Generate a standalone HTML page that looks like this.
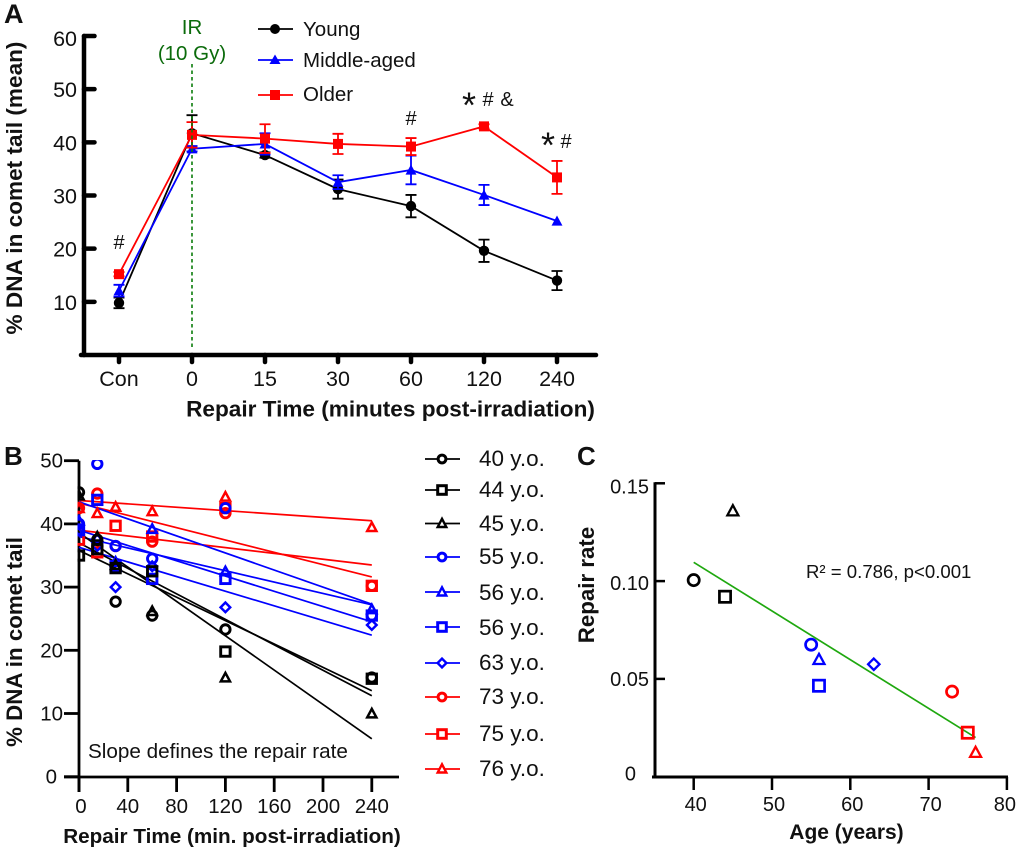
<!DOCTYPE html>
<html lang="en">
<head>
<meta charset="utf-8">
<title>DNA repair charts</title>
<style>
html,body{margin:0;padding:0;background:#fff;width:1020px;height:852px;overflow:hidden}
svg{display:block}
text{font-family:"Liberation Sans",sans-serif;fill:#111}
.b{font-weight:700}
</style>
</head>
<body>
<svg id="fig" width="1020" height="852" viewBox="0 0 1020 852" xmlns="http://www.w3.org/2000/svg">
<defs>
<clipPath id="clipB"><rect x="77.5" y="460" width="330" height="320"/></clipPath>
</defs>

<text class="b" x="4" y="23" font-size="27">A</text>
<text class="b" x="4" y="465" font-size="26">B</text>
<text class="b" x="577" y="465" font-size="26">C</text>

<g id="panelA"></g>
<text class="b" transform="translate(22,188) rotate(-90)" text-anchor="middle" font-size="22.6">% DNA in comet tail (mean)</text>
<text class="b" x="390.500" y="416.500" text-anchor="middle" font-size="22.6">Repair Time (minutes post-irradiation)</text>
<text x="192" y="34" text-anchor="middle" font-size="20.5" style="fill:#0b6b0b">IR</text>
<text x="192" y="60" text-anchor="middle" font-size="20.5" style="fill:#0b6b0b">(10 Gy)</text>
<line x1="192" y1="64" x2="192" y2="350" stroke="#0b7d0b" stroke-width="1.6" stroke-dasharray="3.5 3"/>

<g>
<line x1="258" y1="29" x2="293" y2="29" stroke="#000" stroke-width="1.8"/><circle cx="275" cy="29" r="5" fill="#000"/>
<text x="303" y="36" font-size="20.5">Young</text></g>
<g>
<line x1="258" y1="60" x2="293" y2="60" stroke="#00f" stroke-width="1.8"/><path d="M275 54.500L280.500 64L269.500 64Z" fill="#00f"/>
<text x="303" y="67" font-size="20.5">Middle-aged</text></g>
<g>
<line x1="258" y1="95" x2="293" y2="95" stroke="#f00" stroke-width="1.8"/><rect x="270" y="90" width="10" height="10" fill="#f00"/>
<text x="303" y="101" font-size="20.5">Older</text></g>

<text x="119" y="249" text-anchor="middle" font-size="20">#</text>
<text x="411" y="125" text-anchor="middle" font-size="20">#</text>
<text x="469" y="117.500" text-anchor="middle" font-size="36">*</text>
<text x="488" y="106" text-anchor="middle" font-size="20">#</text>
<text x="507" y="106" text-anchor="middle" font-size="20">&amp;</text>
<text x="548" y="157.500" text-anchor="middle" font-size="36">*</text>
<text x="566" y="148" text-anchor="middle" font-size="20">#</text>

<g id="panelB"></g>
<text class="b" transform="translate(22,642) rotate(-90)" text-anchor="middle" font-size="22.300">% DNA in comet tail</text>
<text class="b" x="232" y="843" text-anchor="middle" font-size="20.700">Repair Time (min. post-irradiation)</text>
<text x="88" y="758" font-size="20.700">Slope defines the repair rate</text>

<g font-size="22.500">
<g><line x1="425" y1="459" x2="460" y2="459" stroke="#000" stroke-width="1.7"/><circle cx="442" cy="459" r="3.900" fill="#fff" stroke="#000" stroke-width="3"/><text x="479" y="466">40 y.o.</text></g>
<g><line x1="425" y1="490" x2="460" y2="490" stroke="#000" stroke-width="1.7"/><rect x="437.700" y="485.700" width="8.600" height="8.600" fill="#fff" stroke="#000" stroke-width="3"/><text x="479" y="497">44 y.o.</text></g>
<g><line x1="425" y1="523.500" x2="460" y2="523.500" stroke="#000" stroke-width="1.7"/><path d="M442 518.800L446.300 527L437.700 527Z" fill="#fff" stroke="#000" stroke-width="2.400"/><text x="479" y="531">45 y.o.</text></g>
<g><line x1="425" y1="557" x2="460" y2="557" stroke="#00f" stroke-width="1.7"/><circle cx="442" cy="557" r="3.900" fill="#fff" stroke="#00f" stroke-width="3"/><text x="479" y="564">55 y.o.</text></g>
<g><line x1="425" y1="592" x2="460" y2="592" stroke="#00f" stroke-width="1.7"/><path d="M442 587.300L446.300 595.500L437.700 595.500Z" fill="#fff" stroke="#00f" stroke-width="2.400"/><text x="479" y="600">56 y.o.</text></g>
<g><line x1="425" y1="627" x2="460" y2="627" stroke="#00f" stroke-width="1.7"/><rect x="437.700" y="622.700" width="8.600" height="8.600" fill="#fff" stroke="#00f" stroke-width="3"/><text x="479" y="635">56 y.o.</text></g>
<g><line x1="425" y1="663" x2="460" y2="663" stroke="#00f" stroke-width="1.7"/><path d="M442 658.600L446.400 663L442 667.400L437.600 663Z" fill="#fff" stroke="#00f" stroke-width="2.400"/><text x="479" y="670">63 y.o.</text></g>
<g><line x1="425" y1="697" x2="460" y2="697" stroke="#f00" stroke-width="1.7"/><circle cx="442" cy="697" r="3.900" fill="#fff" stroke="#f00" stroke-width="3"/><text x="479" y="704">73 y.o.</text></g>
<g><line x1="425" y1="734" x2="460" y2="734" stroke="#f00" stroke-width="1.7"/><rect x="437.700" y="729.700" width="8.600" height="8.600" fill="#fff" stroke="#f00" stroke-width="3"/><text x="479" y="741">75 y.o.</text></g>
<g><line x1="425" y1="769" x2="460" y2="769" stroke="#f00" stroke-width="1.7"/><path d="M442 764.300L446.300 772.500L437.700 772.500Z" fill="#fff" stroke="#f00" stroke-width="2.400"/><text x="479" y="776">76 y.o.</text></g>
</g>

<g id="panelC"></g>
<text class="b" transform="translate(594,585) rotate(-90)" text-anchor="middle" font-size="22.300">Repair rate</text>
<text class="b" x="846.500" y="839" text-anchor="middle" font-size="21">Age (years)</text>
<text x="806" y="578" font-size="18.600">R² = 0.786, p&lt;0.001</text>
</svg>

<script>
// ----- Panel A data -----
const timeLabelsA = ['Con', '0', '15', '30', '60', '120', '240'];
const yTicksA = [10, 20, 30, 40, 50, 60];
const youngMean = [9.8, 41.7, 37.6, 31.2, 28, 19.6, 14];
const youngErr = [1, 3.4, 0.5, 1.8, 2.1, 2.1, 1.8];
const middleMean = [12.1, 38.8, 39.7, 32.5, 34.8, 30.1, 25.2];
const middleErr = [1.1, 0.5, 2, 1.3, 2.7, 1.9, 0];
const olderMean = [15.2, 41.4, 40.7, 39.7, 39.2, 43, 33.4];
const olderErr = [0.4, 2.4, 2.7, 1.9, 1.6, 0.4, 3.1];

// ----- Panel B data -----
const repairMinutes = [0, 15, 30, 60, 120, 240];
const xTicksB = [0, 40, 80, 120, 160, 200, 240];
const yTicksB = [0, 10, 20, 30, 40, 50];
const donorNames = ['76-yo', '75-yo', '73-yo', '63-yo', '56-yo-square', '56-yo-triangle', '55-yo', '45-yo', '44-yo', '40-yo'];
const donorColors = ['red', 'red', 'red', 'blue', 'blue', 'blue', 'blue', 'black', 'black', 'black'];
const donorShapes = ['triangle', 'square', 'circle', 'diamond', 'square', 'triangle', 'circle', 'triangle', 'square', 'circle'];
const donor76 = [42.5, 41.7, 42.7, 42, 44.3, 39.5];
const donor75 = [37.5, 35.5, 39.7, 38, 42.5, 30.2];
const donor73 = [42.5, 44.8, 36.5, 37.2, 41.7, 30.2];
const donor63 = [39, 36.5, 30, 33.3, 26.8, 24];
const donor56Square = [39, 43.8, 33.3, 31.3, 31.3, 25.5];
const donor56Triangle = [40.5, 37.8, 34, 39.2, 32.5, 26.5];
const donor55 = [40, 49.5, 36.5, 34.5, 42.5, 25.5];
const donor45 = [44.5, 38, 33.5, 26.2, 15.7, 10];
const donor44 = [35, 36, 33, 32.5, 19.8, 15.5];
const donor40 = [45, 37.5, 27.7, 25.5, 23.3, 15.7];
const donorSeries = [donor76, donor75, donor73, donor63, donor56Square, donor56Triangle, donor55, donor45, donor44, donor40];
const fitAtZero = [43.7, 39, 43.3, 36.3, 38, 39, 43.5, 38.6, 35.8, 37];
const fitAt240 = [40.5, 33.5, 31.6, 22.4, 27.2, 24.5, 27.3, 6, 13.6, 12.8];

// ----- Panel C data -----
const donorAges = [76, 75, 73, 63, 56, 56, 55, 45, 44, 40];
const repairRates = [0.0125, 0.0225, 0.0435, 0.0575, 0.0465, 0.06, 0.0675, 0.136, 0.092, 0.1005];
const xTicksC = [40, 50, 60, 70, 80];
const yTicksC = [0, 0.05, 0.10, 0.15];
const yTickLabelsC = ['0', '0.05', '0.10', '0.15'];
const fitAges = [40, 76];
const fitRates = [0.1096, 0.02];

const NS = 'http://www.w3.org/2000/svg';
const colorMap = { black: '#000', blue: '#00f', red: '#f00' };

function mk(parent, tag, attrs, txt) {
  const el = document.createElementNS(NS, tag);
  for (const k in attrs) el.setAttribute(k, attrs[k]);
  if (txt !== undefined) el.textContent = txt;
  parent.appendChild(el);
  return el;
}

function shapeEl(parent, shape, x, y, s, color, filled, sw) {
  const fill = filled ? color : 'none';
  const base = { fill: fill, stroke: filled ? 'none' : color, 'stroke-width': sw };
  if (shape === 'circle') return mk(parent, 'circle', Object.assign({ cx: x, cy: y, r: s }, base));
  if (shape === 'square') return mk(parent, 'rect', Object.assign({ x: x - s, y: y - s, width: 2 * s, height: 2 * s }, base));
  if (shape === 'diamond') {
    base['stroke-width'] = sw * 0.85;
    const d = s * 1.02;
    return mk(parent, 'path', Object.assign({ d: `M${x} ${y - d}L${x + d} ${y}L${x} ${y + d}L${x - d} ${y}Z` }, base));
  }
  if (!filled) base['stroke-width'] = sw * 0.85;
  const t = filled ? s * 1.05 : s * 0.98;
  return mk(parent, 'path', Object.assign({ d: `M${x} ${y - t}L${x + t} ${y + t * 0.85}L${x - t} ${y + t * 0.85}Z` }, base));
}

/* ============ Panel A ============ */
const gA = document.getElementById('panelA');
const xA = i => 119 + 73 * i;
const yA = v => 355 - 5.317 * v;

const axisAY = mk(gA, 'line', { x1: 84, y1: yA(60), x2: 84, y2: 355, stroke: '#000', 'stroke-width': 4.5, 'stroke-linecap': 'round' });


const axisAX = mk(gA, 'line', { x1: 81, y1: 355, x2: 596, y2: 355, stroke: '#000', 'stroke-width': 4.5, 'stroke-linecap': 'round' });



yTicksA.forEach(v => {
  const t = mk(gA, 'line', { x1: 84, y1: yA(v), x2: 94.5, y2: yA(v), stroke: '#000', 'stroke-width': 4.5, 'stroke-linecap': 'round' });
  
  
  const l = mk(gA, 'text', { x: 77, y: yA(v) + 8 + (v === 60 ? 2 : 0), 'text-anchor': 'end', 'font-size': 21.5 }, String(v));
  
  
});
timeLabelsA.forEach((c, i) => {
  const t = mk(gA, 'line', { x1: xA(i), y1: 355, x2: xA(i), y2: 362, stroke: '#000', 'stroke-width': 4.5, 'stroke-linecap': 'round' });
  
  
  const l = mk(gA, 'text', { x: xA(i), y: 386, 'text-anchor': 'middle', 'font-size': 21.5 }, c);
  
  
});

function seriesA(name, means, errs, color, shape, size) {
  const g = mk(gA, 'g', {});
  
  
  const pl = mk(g, 'polyline', { points: means.map((m, i) => xA(i) + ',' + yA(m)).join(' '), fill: 'none', stroke: color, 'stroke-width': 1.8 });
  
  
  means.forEach((m, i) => {
    if (errs[i] > 0) {
      const x = xA(i);
      const hi = yA(m + errs[i]);
      const lo = yA(m - errs[i]);
      const eb = mk(g, 'path', { d: `M${x - 5.5} ${hi}H${x + 5.5}M${x} ${hi}V${lo}M${x - 5.5} ${lo}H${x + 5.5}`, fill: 'none', stroke: color, 'stroke-width': 1.8 });
      
      
    }
    const mark = shapeEl(g, shape, xA(i), yA(m), size, color, true, 0);
    
    
  });
}
seriesA('young', youngMean, youngErr, '#000', 'circle', 5.2);
seriesA('middle-aged', middleMean, middleErr, '#00f', 'triangle', 5.2);
seriesA('older', olderMean, olderErr, '#f00', 'square', 5);

/* ============ Panel B ============ */
const gB = document.getElementById('panelB');
const xB = m => 79 + 1.22 * m;
const yB = v => 776.7 - 6.32 * v;

const axisBY = mk(gB, 'line', { x1: 79, y1: yB(50), x2: 79, y2: 792, stroke: '#000', 'stroke-width': 2.8 });


const axisBX = mk(gB, 'line', { x1: 64, y1: 777, x2: 399, y2: 777, stroke: '#000', 'stroke-width': 2.8 });



yTicksB.forEach(v => {
  const t = mk(gB, 'line', { x1: 64, y1: yB(v), x2: 79, y2: yB(v), stroke: '#000', 'stroke-width': 2.8 });
  
  
  const l = mk(gB, 'text', { x: v === 0 ? 57 : 63, y: yB(v) + 7, 'text-anchor': 'end', 'font-size': 20.5 }, String(v));
  
  
});
xTicksB.forEach(v => {
  const t = mk(gB, 'line', { x1: xB(v), y1: 777, x2: xB(v), y2: 792, stroke: '#000', 'stroke-width': 2.8 });
  
  
  const l = mk(gB, 'text', { x: xB(v) + (v === 0 ? 2 : 0), y: 813, 'text-anchor': 'middle', 'font-size': 20.5 }, String(v));
  
  
});

const plotB = mk(gB, 'g', { 'clip-path': 'url(#clipB)' });


donorSeries.forEach((vals, s) => {
  const color = colorMap[donorColors[s]];
  const fit = mk(plotB, 'line', { x1: xB(0), y1: yB(fitAtZero[s]), x2: xB(240), y2: yB(fitAt240[s]), stroke: color, 'stroke-width': 1.7 });
  
  
});
donorSeries.forEach((vals, s) => {
  const color = colorMap[donorColors[s]];
  vals.forEach((v, i) => {
    const mark = shapeEl(plotB, donorShapes[s], xB(repairMinutes[i]), yB(v), 4.7, color, false, 2.9);
    
    
  });
});

/* ============ Panel C ============ */
const gC = document.getElementById('panelC');
const xC = a => 693.7 + 7.83 * (a - 40);
const yC = r => 776.7 - 1956 * r;

const axisCY = mk(gC, 'line', { x1: 655, y1: yC(0.15) - 1, x2: 655, y2: 778, stroke: '#000', 'stroke-width': 3 });


const axisCX = mk(gC, 'line', { x1: 652, y1: 777, x2: 1008, y2: 777, stroke: '#000', 'stroke-width': 3 });



yTicksC.forEach((v, i) => {
  if (v > 0) {
    const t = mk(gC, 'line', { x1: 655, y1: yC(v), x2: 665, y2: yC(v), stroke: '#000', 'stroke-width': 2.5 });
    
    
  }
  const l = mk(gC, 'text', { x: v === 0 ? 636 : 649, y: yC(v) + 7 - (v === 0 ? 3 : 0) + (v > 0.12 ? 3 : 0) + (v > 0.09 && v < 0.12 ? 2 : 0), 'text-anchor': 'end', 'font-size': 20 }, yTickLabelsC[i]);
  
  
});
xTicksC.forEach(v => {
  const t = mk(gC, 'line', { x1: xC(v), y1: 777, x2: xC(v), y2: 790, stroke: '#000', 'stroke-width': 2.5 });
  
  
  const l = mk(gC, 'text', { x: xC(v) + (v === 80 ? -2 : 2), y: 811, 'text-anchor': 'middle', 'font-size': 20 }, String(v));
  
  
});

const fitC = mk(gC, 'line', { x1: xC(fitAges[0]), y1: yC(fitRates[0]), x2: xC(fitAges[1]), y2: yC(fitRates[1]), stroke: '#1fa80f', 'stroke-width': 1.7 });



donorAges.forEach((a, s) => {
  const color = colorMap[donorColors[s]];
  const mark = shapeEl(gC, donorShapes[s], xC(a), yC(repairRates[s]), 5.6, color, false, 2.7);
  
  
});
</script>
</body>
</html>
